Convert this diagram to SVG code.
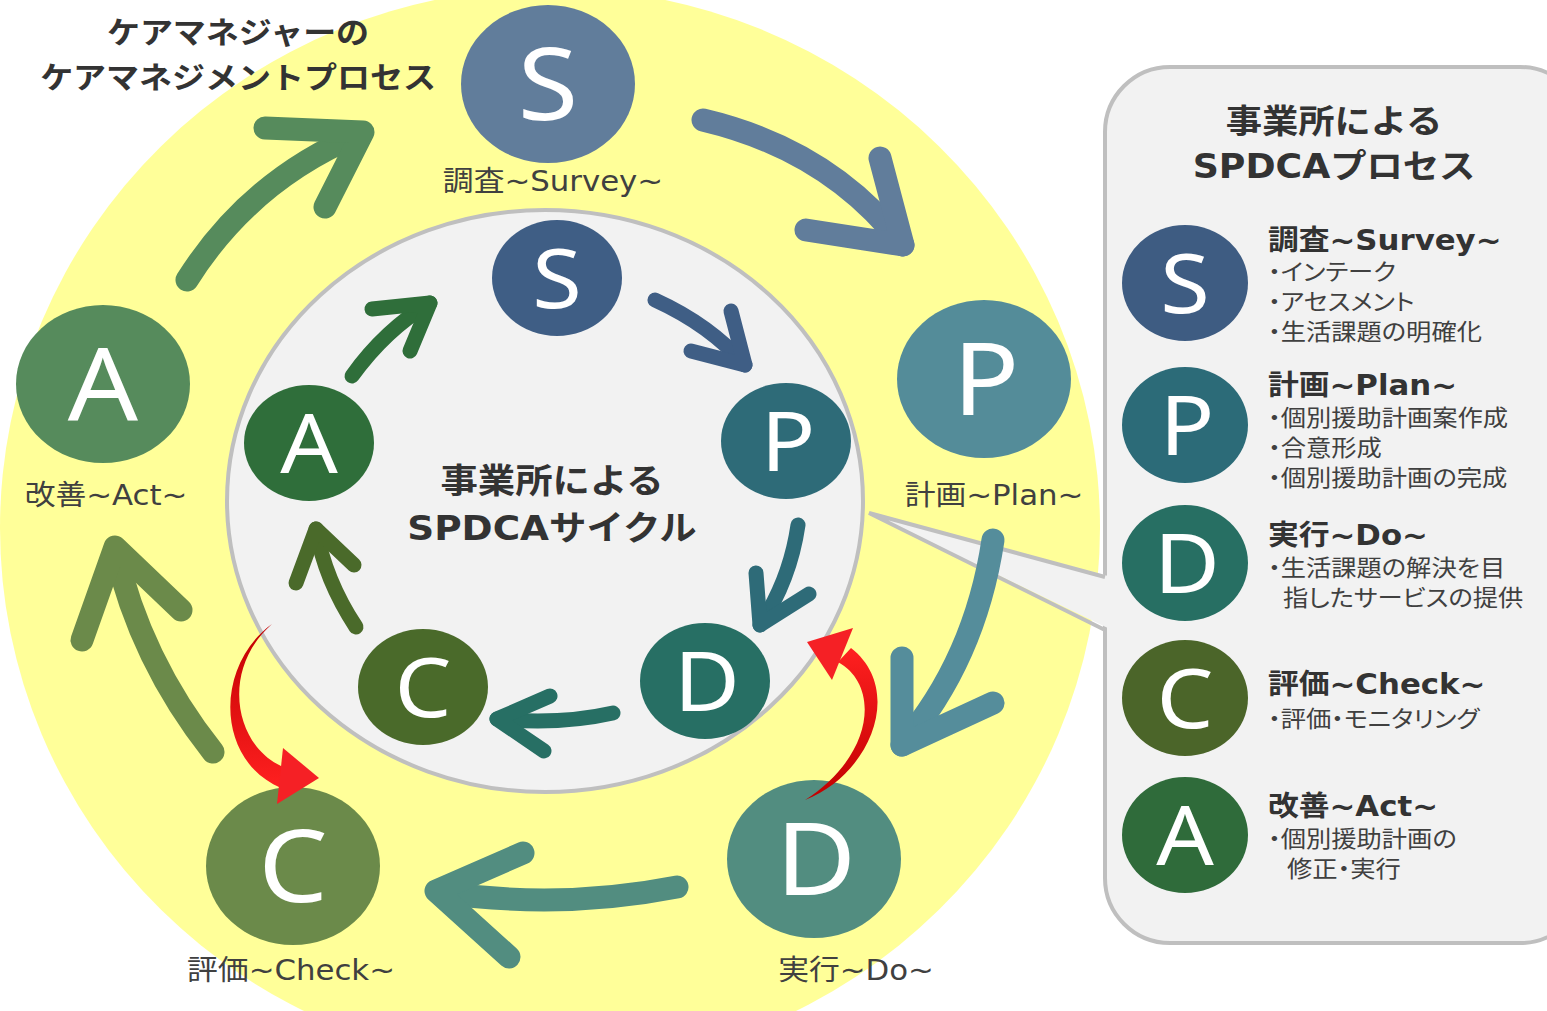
<svg xmlns="http://www.w3.org/2000/svg" width="1547" height="1011" viewBox="0 0 1547 1011">
<defs>
<style>
.lt{font-family:"Noto Sans","Open Sans",sans-serif;fill:#fff;text-anchor:middle}
.big{font-size:100px}
.sm{font-size:82px}
.lbl{font-family:"DejaVu Sans","Noto Sans CJK JP",sans-serif;font-size:28px;fill:#404040;text-anchor:middle}
.ttl{font-family:"DejaVu Sans","Noto Sans CJK JP",sans-serif;font-weight:bold;fill:#333;text-anchor:middle}
.hd{font-family:"DejaVu Sans","Noto Sans CJK JP",sans-serif;font-weight:bold;font-size:28px;fill:#333}
.it{font-family:"Noto Sans CJK JP",sans-serif;font-size:23px;fill:#404040;font-feature-settings:"palt"}
.ob{fill:none;stroke-width:23;stroke-linecap:round;stroke-linejoin:round}
.ib{fill:none;stroke-width:15;stroke-linecap:round;stroke-linejoin:round}
</style>
<linearGradient id="redL" x1="0" y1="0" x2="0" y2="1">
<stop offset="0" stop-color="#c00000"/>
<stop offset="1" stop-color="#ff2020"/>
</linearGradient>
<linearGradient id="redR" x1="0" y1="1" x2="0" y2="0">
<stop offset="0" stop-color="#c00000"/>
<stop offset="1" stop-color="#ff2020"/>
</linearGradient>
</defs>

<g id="background">
<ellipse cx="550" cy="528" rx="550" ry="540" fill="#ffff99"/>
<ellipse cx="545" cy="501" rx="318" ry="291" fill="#f2f2f2" stroke="#bfbfbf" stroke-width="4"/>
</g>

<g id="panel">
<rect x="1105" y="67" width="480" height="876" rx="65" fill="#f2f2f2" stroke="#bfbfbf" stroke-width="4"/>
<polygon points="1112,577 869,513 1112,630" fill="#f2f2f2"/>
<polyline points="1105,577 869,513 1105,630" fill="none" stroke="#bfbfbf" stroke-width="4"/>
<text class="ttl" font-size="33" transform="translate(1334,133) scale(1.1,1)">事業所による</text>
<text class="ttl" font-size="33" transform="translate(1334,178) scale(1.1,1)">SPDCAプロセス</text>
</g>

<g id="title">
<text class="ttl" font-size="30" transform="translate(238,43) scale(1.1,1)">ケアマネジャーの</text>
<text class="ttl" font-size="30" transform="translate(238,88) scale(1.1,1)">ケアマネジメントプロセス</text>
</g>

<g id="outer-S">
<ellipse cx="548" cy="84" rx="87" ry="79" fill="#617d9b"/>
<text class="lt big" transform="translate(548,120) scale(1.1,1)">S</text>
<text class="lbl" transform="translate(553,191) scale(1.1,1)">調査~Survey~</text>
</g>
<g id="outer-P">
<ellipse cx="984" cy="379" rx="87" ry="79" fill="#548c99"/>
<text class="lt big" transform="translate(986,415) scale(1.1,1)">P</text>
<text class="lbl" transform="translate(994,505) scale(1.1,1)">計画~Plan~</text>
</g>
<g id="outer-D">
<ellipse cx="814" cy="859" rx="87" ry="79" fill="#528d80"/>
<text class="lt big" transform="translate(816,895) scale(1.1,1)">D</text>
<text class="lbl" transform="translate(856,980) scale(1.1,1)">実行~Do~</text>
</g>
<g id="outer-C">
<ellipse cx="293" cy="866" rx="87" ry="79" fill="#6b8a4a"/>
<text class="lt big" transform="translate(293,902) scale(1.1,1)">C</text>
<text class="lbl" transform="translate(291,980) scale(1.1,1)">評価~Check~</text>
</g>
<g id="outer-A">
<ellipse cx="103" cy="384" rx="87" ry="79" fill="#568b5c"/>
<text class="lt big" transform="translate(103,420) scale(1.1,1)">A</text>
<text class="lbl" transform="translate(106,505) scale(1.1,1)">改善~Act~</text>
</g>

<g id="inner-center">
<text class="ttl" font-size="34" transform="translate(552,493) scale(1.1,1)">事業所による</text>
<text class="ttl" font-size="34" transform="translate(552,540) scale(1.1,1)">SPDCAサイクル</text>
</g>
<g id="inner-S">
<ellipse cx="557" cy="278" rx="65" ry="58" fill="#3f5e85"/>
<text class="lt sm" transform="translate(557,308) scale(1.1,1)">S</text>
</g>
<g id="inner-P">
<ellipse cx="786" cy="441" rx="65" ry="58" fill="#2e6b78"/>
<text class="lt sm" transform="translate(788,471) scale(1.1,1)">P</text>
</g>
<g id="inner-D">
<ellipse cx="705" cy="681" rx="65" ry="58" fill="#276f64"/>
<text class="lt sm" transform="translate(707,711) scale(1.1,1)">D</text>
</g>
<g id="inner-C">
<ellipse cx="423" cy="687" rx="65" ry="58" fill="#4a6a2a"/>
<text class="lt sm" transform="translate(423,717) scale(1.1,1)">C</text>
</g>
<g id="inner-A">
<ellipse cx="309" cy="443" rx="65" ry="58" fill="#2f6e3a"/>
<text class="lt sm" transform="translate(309,473) scale(1.1,1)">A</text>
</g>

<g id="panel-S">
<ellipse cx="1185" cy="283" rx="63" ry="58" fill="#3e5c82"/>
<text class="lt sm" transform="translate(1185,313) scale(1.1,1)">S</text>
<text class="hd" transform="translate(1268,250) scale(1.1,1)">調査~Survey~</text>
<text class="it" transform="translate(1268,280) scale(1.1,1)">・インテーク</text>
<text class="it" transform="translate(1268,310) scale(1.1,1)">・アセスメント</text>
<text class="it" transform="translate(1268,340) scale(1.1,1)">・生活課題の明確化</text>
</g>
<g id="panel-P">
<ellipse cx="1185" cy="425" rx="63" ry="58" fill="#2c6b78"/>
<text class="lt sm" transform="translate(1187,455) scale(1.1,1)">P</text>
<text class="hd" transform="translate(1268,395) scale(1.1,1)">計画~Plan~</text>
<text class="it" transform="translate(1268,426) scale(1.1,1)">・個別援助計画案作成</text>
<text class="it" transform="translate(1268,456) scale(1.1,1)">・合意形成</text>
<text class="it" transform="translate(1268,486) scale(1.1,1)">・個別援助計画の完成</text>
</g>
<g id="panel-D">
<ellipse cx="1185" cy="563" rx="63" ry="58" fill="#276f63"/>
<text class="lt sm" transform="translate(1187,593) scale(1.1,1)">D</text>
<text class="hd" transform="translate(1268,545) scale(1.1,1)">実行~Do~</text>
<text class="it" transform="translate(1268,576) scale(1.1,1)">・生活課題の解決を目</text>
<text class="it" transform="translate(1283,606) scale(1.1,1)">指したサービスの提供</text>
</g>
<g id="panel-C">
<ellipse cx="1185" cy="698" rx="63" ry="58" fill="#4b6529"/>
<text class="lt sm" transform="translate(1185,728) scale(1.1,1)">C</text>
<text class="hd" transform="translate(1268,694) scale(1.1,1)">評価~Check~</text>
<text class="it" transform="translate(1268,727) scale(1.1,1)">・評価・モニタリング</text>
</g>
<g id="panel-A">
<ellipse cx="1185" cy="835" rx="63" ry="58" fill="#2f6b3a"/>
<text class="lt sm" transform="translate(1185,865) scale(1.1,1)">A</text>
<text class="hd" transform="translate(1268,816) scale(1.1,1)">改善~Act~</text>
<text class="it" transform="translate(1268,847) scale(1.1,1)">・個別援助計画の</text>
<text class="it" transform="translate(1287,877) scale(1.1,1)">修正・実行</text>
</g>

<g id="connectors">
<g stroke="#568b5c"><path class="ob" d="M187,280 Q250,180 360,134"/><path class="ob" d="M265,128 L363,132 L325,207"/></g>
<g stroke="#617d9b"><path class="ob" d="M703,120 Q830,150 903,245"/><path class="ob" d="M880,158 L903,245 L806,230"/></g>
<g stroke="#558d9b"><path class="ob" d="M993,540 Q975,660 902,745"/><path class="ob" d="M902,658 L902,745 L993,703"/></g>
<g stroke="#528d80"><path class="ob" d="M677,887 Q560,910 438,892"/><path class="ob" d="M523,853 L436,891 L509,957"/></g>
<g stroke="#6b8a4a"><path class="ob" d="M213,752 Q140,660 115,549"/><path class="ob" d="M82,640 L115,547 L181,610"/></g>

<g stroke="#2f6e3a"><path class="ib" d="M352,376 Q385,330 430,303"/><path class="ib" d="M372,309 L430,303 L410,351"/></g>
<g stroke="#3f5e85"><path class="ib" d="M655,300 Q710,325 745,365"/><path class="ib" d="M731,311 L745,365 L691,351"/></g>
<g stroke="#2e6b78"><path class="ib" d="M798,525 Q790,580 760,625"/><path class="ib" d="M756,573 L760,625 L809,594"/></g>
<g stroke="#276f64"><path class="ib" d="M613,713 Q560,725 497,719"/><path class="ib" d="M550,696 L497,719 L544,751"/></g>
<g stroke="#4a6a2a"><path class="ib" d="M356,627 Q325,580 316,529"/><path class="ib" d="M296,583 L316,529 L354,565"/></g>

<path d="M272,624 C215,665 215,760 281,788 L281,766 C235,745 220,670 272,624 Z" fill="url(#redL)"/>
<polygon points="283,748 319,778 277,804" fill="#f52025"/>
<path d="M805,800 C870,775 905,690 851,648 L838,662 C880,685 875,755 805,800 Z" fill="url(#redR)"/>
<polygon points="807,642 853,628 832,680" fill="#f52025"/>
</g>
</svg>
